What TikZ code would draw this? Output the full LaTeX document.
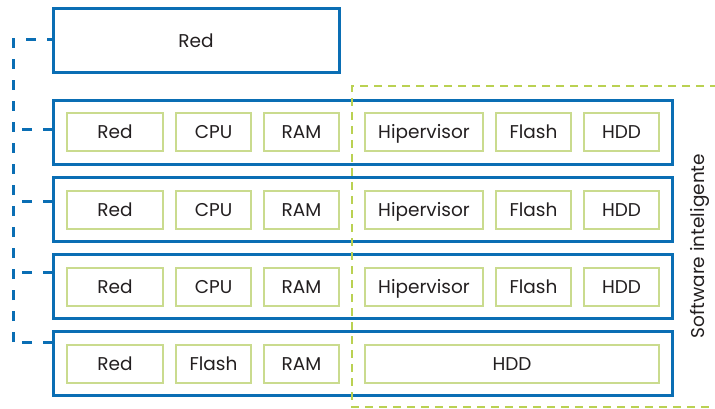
\documentclass[tikz,border=0pt]{standalone}
\usepackage{fontspec}
\setmainfont{Poppins}
\usetikzlibrary{positioning}
\definecolor{vblue}{HTML}{0A6EB4}
\definecolor{vgreen}{HTML}{CADB8E}
\definecolor{vlime}{HTML}{BAD152}
\definecolor{vtext}{HTML}{231F20}
\tikzset{
    host-box/.style = {draw=vblue, line width=3pt, rectangle, minimum width=619pt, minimum height=64pt, inner sep=0pt, outer sep=0pt, text=vtext, text height=13pt, text depth=0pt},
    part-box/.style = {draw=vgreen, line width=2pt, rectangle, minimum width=75pt, minimum height=38pt, inner sep=0pt, outer sep=0pt, text=vtext, text height=13pt, text depth=0pt},
    bus-line/.style = {draw=vblue, line width=3pt, dash pattern=on 10pt off 11pt},
    zone-line/.style = {draw=vlime, line width=2.5pt, dash pattern=on 8pt off 6pt},
}

\begin{document}
\begin{tikzpicture}[x=1pt, y=-1pt, font=\fontsize{18.5}{22}\selectfont]
\useasboundingbox (0,0) rectangle (715,409);
\node [host-box, minimum width=286pt] (net) at (196,41) {Red};
\foreach \i in {1,...,4}
    \node [host-box] (host\i) at (362.5,{132.5+77*(\i-1)}) {};
\foreach \i in {1,2,3} {
    \node [part-box, minimum width=96pt, right=14pt of host\i.west] (red\i) {Red};
    \node [part-box, right=13pt of red\i] (cpu\i) {CPU};
    \node [part-box, right=13pt of cpu\i] (ram\i) {RAM};
    \node [part-box, minimum width=118pt, right=26pt of ram\i] (hyp\i) {Hipervisor};
    \node [part-box, right=13pt of hyp\i] (flash\i) {Flash};
    \node [part-box, right=13pt of flash\i] (hdd\i) {HDD};
}
\node [part-box, minimum width=96pt, right=14pt of host4.west] (red4) {Red};
\node [part-box, right=13pt of red4] (flash4) {Flash};
\node [part-box, right=13pt of flash4] (ram4) {RAM};
\node [part-box, minimum width=294pt, right=26pt of ram4] (hdd4) {HDD};

\draw [zone-line] (718,86) -- (352,86) -- (352,407) -- (718,407);
\node [rotate=90, text=vtext] (sds) at (700,246) {Software inteligente};

\coordinate (bus-top) at (13,40);
\coordinate (bus-end) at (13,342);
\draw [bus-line] (bus-end) -- (bus-top) -- (net.west |- bus-top);
\foreach \i/\y in {1/130,2/201,3/272,4/342} {
    \coordinate (tap\i) at (13,\y);
    \draw [bus-line] (host\i.west |- tap\i) -- (tap\i);
}
\end{tikzpicture}
\end{document}
